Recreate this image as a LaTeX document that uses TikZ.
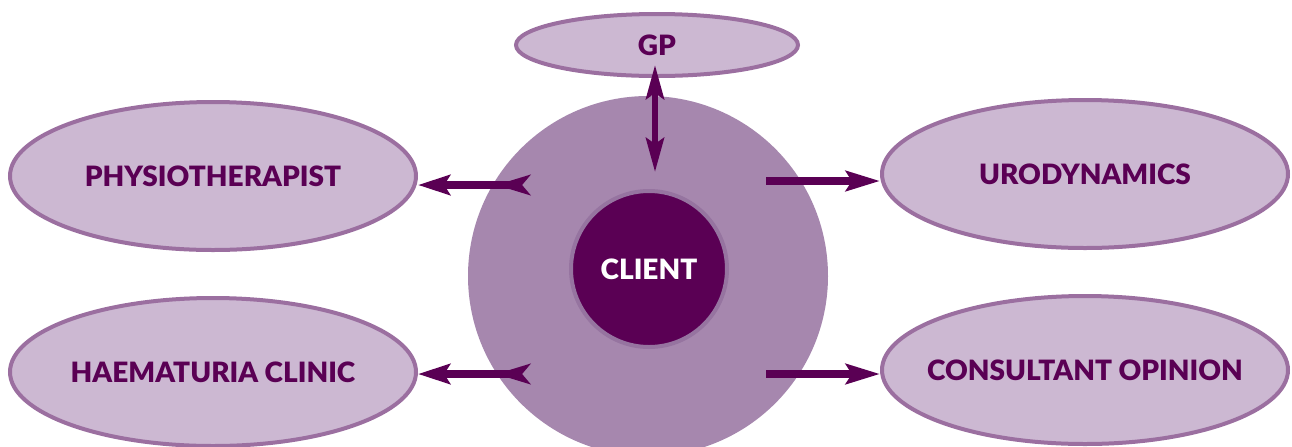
\documentclass[tikz,border=0pt]{standalone}
\usepackage{fontspec}
\setmainfont{Lato}[BoldFont={Lato Black}]
\usepackage{tikz}
\usetikzlibrary{arrows.meta,shapes.geometric}
\definecolor{paleplum}{HTML}{CCB8D2}
\definecolor{plumline}{HTML}{9B6FA0}
\definecolor{midplum}{HTML}{A687AE}
\definecolor{darkplum}{HTML}{5A0054}
\definecolor{ringplum}{HTML}{9674A0}

\begin{document}
\begin{tikzpicture}[x=0.5pt,y=-0.5pt,
    service/.style={ellipse, fill=paleplum, draw=plumline, line width=2pt,
        minimum width=203pt, minimum height=74pt, inner xsep=-20pt, inner ysep=0pt,
        text=darkplum, font=\bfseries\fontsize{14}{16}\selectfont},
    link/.style={darkplum, line width=4pt}]
    \useasboundingbox (0,0) rectangle (1292,446);

    % Hub and client
    \node[circle, fill=midplum, minimum size=180pt, inner sep=0pt] (hub) at (648,276) {};
    \node[circle, fill=darkplum, draw=ringplum, line width=2pt, minimum size=78pt,
        text=white, font=\bfseries\fontsize{14}{16}\selectfont] (client) at (649,269) {CLIENT};

    % Services
    \node[service, minimum width=141pt, minimum height=31pt] (gp) at (657,45) {GP};
    \node[service] (physio) at (213,176) {PHYSIOTHERAPIST};
    \node[service] (haema) at (213,372) {HAEMATURIA CLINIC};
    \node[service] (uro) at (1085,174) {URODYNAMICS};
    \node[service] (consult) at (1085,370) {CONSULTANT OPINION};

    % Arrow ends
    \coordinate (gpEnd) at (655,65);
    \coordinate (hubTop) at (655,172);
    \coordinate (physioTail) at (530,185);
    \coordinate (haemaTail) at (530,374);
    \coordinate (uroTail) at (766,181);
    \coordinate (consultTail) at (766,374);

    % Arrows
    \draw[link, line width=3pt, {Stealth[length=17pt,width=9pt,inset=3pt]}-{Stealth[length=17pt,width=9pt,inset=3pt]}] (gpEnd) -- (hubTop);
    \draw[link, {Stealth[reversed,length=17pt,width=10pt,inset=4pt]}-{Stealth[length=16pt,width=10pt,inset=3pt]}] (physioTail) -- (physioTail -| physio.east);
    \draw[link, {Stealth[reversed,length=17pt,width=10pt,inset=4pt]}-{Stealth[length=16pt,width=10pt,inset=3pt]}] (haemaTail) -- (haemaTail -| haema.east);
    \draw[link, -{Stealth[length=17pt,width=10pt,inset=3pt]}] (uroTail) -- (uroTail -| uro.west);
    \draw[link, -{Stealth[length=17pt,width=10pt,inset=3pt]}] (consultTail) -- (consultTail -| consult.west);
\end{tikzpicture}
\end{document}
